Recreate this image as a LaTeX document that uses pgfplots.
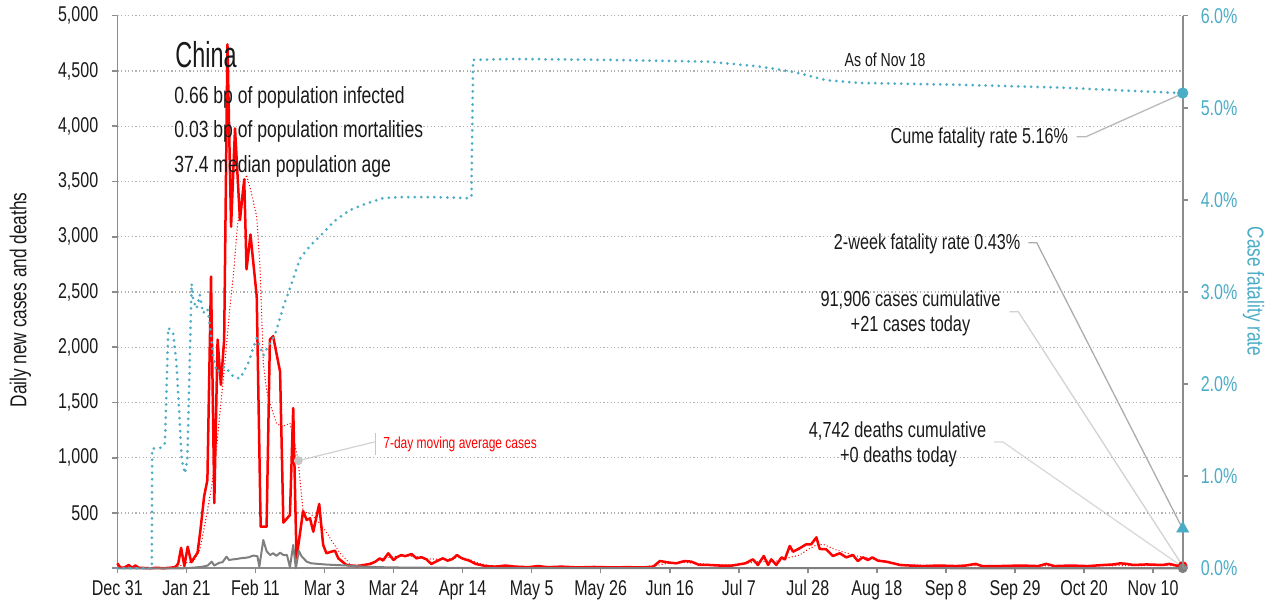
\documentclass[border=0pt]{standalone}
\usepackage{fontspec}
\setmainfont{Liberation Sans}[FakeStretch=0.75]
\newfontfamily\titlefont{Liberation Sans}[FakeStretch=0.65]
\usepackage{pgfplots}
\pgfplotsset{compat=1.18}
\definecolor{cfr}{HTML}{4BACC6}
\definecolor{axisgray}{HTML}{8C8C8C}
\definecolor{gridgray}{HTML}{B0B0B0}
\definecolor{deathgray}{HTML}{7F7F7F}
\definecolor{txt}{HTML}{1A1A1A}
\begin{document}
\begin{tikzpicture}
% leader lines (drawn first, below the markers)
\begin{scope}[x=0.5pt,y=-0.5pt,yshift=304pt]
\draw[color=gray!55, line width=0.65pt] (1076.7,136.7) -- (1086,136.7) -- (1182.7,93.5);
\draw[color=gray!65, line width=0.65pt] (1028.3,242.7) -- (1036.7,242.7) -- (1182.7,529);
\draw[color=gray!35, line width=0.65pt] (1009.3,311.7) -- (1018.3,311.7) -- (1182.7,566);
\draw[color=gray!30, line width=0.65pt] (994,442) -- (1003,442) -- (1182.7,567);
\draw[color=gray!45, line width=0.6pt] (375.5,433) -- (375.5,455);
\draw[color=gray!35, line width=0.6pt] (375.5,441.7) -- (298.3,460.7);
\end{scope}

\begin{axis}[
 name=main,
 at={(58.65pt,19.85pt)}, anchor=south west,
 scale only axis, width=532.7pt, height=276.3pt,
 xmin=0, xmax=324, ymin=0, ymax=5000,
 axis y line*=left, axis x line*=bottom,
 axis line style={-},
 x axis line style={draw=axisgray, line width=1pt},
 y axis line style={draw=axisgray, line width=0.8pt},
 xtick={0,21,...,315},
 xticklabels={Dec 31,Jan 21,Feb 11,Mar 3,Mar 24,Apr 14,May 5,May 26,Jun 16,Jul 7,Jul 28,Aug 18,Sep 8,Sep 29,Oct 20,Nov 10},
 ytick={0,500,...,5000},
 yticklabels={{},500,{1,000},{1,500},{2,000},{2,500},{3,000},{3,500},{4,000},{4,500},{5,000}},
 tick align=outside, major tick length=2.5pt,
 tick style={draw=axisgray, line width=0.8pt},
 ymajorgrids,
 major grid style={draw=gridgray, line width=0.6pt, dash pattern=on 0.6pt off 1.2pt},
 tick label style={font=\fontsize{10.7}{12}\selectfont, text=txt},
 yticklabel style={xshift=-3.5pt},
 /pgf/number format/assume math mode=true,
 clip=false,
]
\addplot[red, line width=1.25pt, line join=round] coordinates {
(0,45)(1,5)(2,5)(3.5,30)(4.5,5)(5.5,25)(6.5,5)(8,3)(10,0)(12,5)(14,0)(16,5)(17.5,10)(18.5,40)(19.4,185)(20.4,20)(21.4,195)(22.5,55)(23.5,100)(24.4,140)(25.3,350)(26.4,650)(27.4,800)(28.5,2640)(29.5,590)(30.5,2070)(31.5,1660)(32.5,2070)(33.5,4740)(34.6,3090)(35.8,3980)(37.3,3150)(38.6,3520)(39.3,2705)(40.5,3020)(42.4,2460)(43.6,376)(45.4,376)(46.4,2070)(47.4,2100)(48.4,1945)(49.5,1780)(50.5,413)(52.5,482)(53.5,1450)(54.5,90)(56.5,518)(57.6,437)(58.6,452)(59.6,331)(61.4,582)(62.6,211)(63.6,136)(65,150)(66.2,159)(67.2,90)(69.7,30)(71,25)(73,20)(75,30)(77,40)(78.5,60)(79.8,90)(80.8,70)(82.4,136)(84,75)(85,100)(86.4,120)(87.5,110)(89.5,129)(91,90)(92.5,100)(94,81)(95.5,39)(97.5,70)(99,90)(100.5,69)(102,85)(103.3,120)(104.5,95)(105.7,81)(107,70)(109,39)(110.5,30)(112,20)(115,15)(118,25)(121,15)(125,10)(128,20)(131,10)(135,15)(140,8)(145,12)(150,8)(155,10)(160,8)(163,15)(165,66)(168,51)(170,45)(172.5,66)(174.6,60)(177,30)(180,30)(183,25)(187,25)(189,35)(191,45)(193.3,81)(194.8,30)(196.6,111)(197.9,30)(198.9,81)(200.4,30)(202,99)(203,81)(204.5,202)(205.5,150)(207.5,181)(209.5,217)(211,217)(212.6,280)(213.6,175)(215.6,172)(217.6,111)(219.7,136)(221.7,99)(223.7,120)(225.2,66)(226.7,99)(228.3,75)(229.6,99)(231.3,69)(233.8,60)(236,45)(238,30)(241,25)(245,20)(250,25)(255,20)(258,25)(261,40)(263,20)(268,20)(275,25)(280,20)(282.5,40)(285,20)(290,25)(295,20)(300,30)(303,35)(305,45)(307,40)(309,30)(313,35)(318,30)(320,40)(322,25)(324,21)
};
\addplot[red, line width=0.7pt, line cap=round, dash pattern=on 0pt off 1.6pt] coordinates {
(0,8)(5,8)(10,3)(17,3)(19,20)(21,50)(23.1,60)(25.1,166)(26.7,407)(28.7,738)(30.2,1100)(31.7,1553)(33,1950)(34.2,2350)(35.3,2650)(36.5,3091)(38,3400)(39.3,3560)(40.8,3393)(42.4,3181)(43.4,2729)(44.4,1855)(45.4,1613)(46.4,1493)(48.4,1312)(50,1281)(52.5,1312)(55,980)(56.5,512)(58.6,498)(61.6,407)(63.5,330)(65.7,226)(67.7,140)(69.7,75)(71,30)(75,30)(78,60)(81,90)(85,110)(90,110)(95,85)(100,80)(104,100)(107,80)(110,45)(113,25)(118,18)(125,15)(140,12)(160,10)(164,25)(167,45)(172,55)(176,45)(180,35)(186,30)(190,40)(195,60)(198,65)(201.4,66)(204,95)(207.5,120)(210,170)(212.6,211)(214.6,217)(218.7,166)(223.7,120)(227,100)(231.8,75)(236,45)(240,30)(250,25)(280,22)(324,25)
};
\addplot[deathgray, line width=1pt, line join=round] coordinates {
(0,0)(20,0)(22,3)(24,8)(26,15)(27.5,25)(28.7,60)(29.5,25)(31,50)(32,55)(33.2,105)(34,75)(35,80)(36.5,85)(37.3,90)(39,95)(40,100)(41.3,115)(42.6,110)(43.2,15)(44.4,256)(45.4,155)(46.5,120)(47.4,136)(48.4,113)(49.5,141)(50.5,120)(51.6,120)(52.5,10)(53.5,211)(54.3,0)(55.2,159)(56,110)(57.6,60)(59,45)(61,40)(63,35)(66,30)(70,25)(75,15)(80,10)(90,5)(100,5)(110,2)(150,1)(324,0)
};
\addplot[only marks, mark=*, mark size=2pt, color=gray!45] coordinates {(55.05,974)};
\addplot[only marks, mark=*, mark size=2.2pt, color=red] coordinates {(324,21)};
\addplot[only marks, mark=*, mark size=2.2pt, color=deathgray] coordinates {(324,0)};
\end{axis}

\begin{axis}[
 at={(58.65pt,19.85pt)}, anchor=south west,
 scale only axis, width=532.7pt, height=276.3pt,
 xmin=0, xmax=324, ymin=0, ymax=6,
 axis y line*=right, axis x line=none,
 axis line style={-},
 y axis line style={draw=axisgray, line width=0.8pt},
 ytick={0,1,...,6},
 yticklabel={\pgfmathprintnumber[fixed,fixed zerofill,precision=1]{\tick}\%},
 tick align=outside, major tick length=2.5pt,
 tick style={draw=axisgray, line width=0.8pt},
 yticklabel style={font=\fontsize{10.7}{12}\selectfont, text=cfr, xshift=3pt},
 /pgf/number format/assume math mode=true,
 clip=false,
]
\addplot[cfr, line width=1.5pt, line cap=round, dash pattern=on 0pt off 3.25pt] coordinates {
(0,0)(10.5,0)(10.6,1.30)(13.5,1.31)(14.5,1.36)(15.5,2.61)(17,2.55)(18,2.23)(19.6,1.18)(20.6,1.03)(21.3,1.18)(22.6,3.09)(23.1,2.91)(24.1,2.82)(25.1,2.97)(26.1,2.77)(27.4,2.82)(28.2,2.62)(29.2,2.30)(30.2,2.13)(32.7,2.19)(35.3,2.08)(37.3,2.06)(39.8,2.23)(42.4,2.50)(44.4,2.31)(45.9,2.41)(47.9,2.53)(50.5,2.84)(53,3.09)(55.5,3.36)(58.6,3.50)(62.6,3.64)(65.7,3.76)(70.7,3.89)(75.8,3.96)(80.9,4.02)(86,4.03)(96,4.03)(106.7,4.02)(107.7,4.03)(108.2,5.52)(120,5.53)(150,5.52)(180,5.50)(195,5.45)(205.5,5.39)(215.6,5.30)(225.8,5.27)(256,5.25)(286.5,5.22)(317,5.17)(324,5.16)
};
\addplot[only marks, mark=*, mark size=2.6pt, color=cfr] coordinates {(324,5.16)};
\addplot[only marks, mark=triangle*, mark size=3.4pt, color=cfr] coordinates {(324,0.43)};
\end{axis}

\begin{scope}[x=0.5pt,y=-0.5pt,yshift=304pt, inner sep=0pt, text=txt]
\node[anchor=base west, font=\titlefont\fontsize{18}{20}\selectfont] at (175,67.7) {China};
\node[anchor=base west, font=\fontsize{11.7}{13}\selectfont] at (174,103.3) {0.66 bp of population infected};
\node[anchor=base west, font=\fontsize{11.7}{13}\selectfont] at (174,137.7) {0.03 bp of population mortalities};
\node[anchor=base west, font=\fontsize{11.7}{13}\selectfont] at (174,172.7) {37.4 median population age};
\node[anchor=base, font=\fontsize{9.4}{11}\selectfont] at (885,66.7) {As of Nov 18};
\node[anchor=base east, font=\fontsize{10.8}{13}\selectfont] at (1068.5,143.3) {Cume fatality rate 5.16\%};
\node[anchor=base east, font=\fontsize{10.8}{13}\selectfont] at (1020.7,249.3) {2-week fatality rate 0.43\%};
\node[anchor=base, font=\fontsize{10.9}{13}\selectfont] at (910.5,306.5) {91,906 cases cumulative};
\node[anchor=base, font=\fontsize{10.9}{13}\selectfont] at (910.5,331.5) {+21 cases today};
\node[anchor=base, font=\fontsize{10.9}{13}\selectfont] at (897.5,437.5) {4,742 deaths cumulative};
\node[anchor=base, font=\fontsize{10.9}{13}\selectfont] at (898.5,462.5) {+0 deaths today};
\node[anchor=base west, font=\fontsize{8}{10}\selectfont, text=red] at (383,448.3) {7-day moving average cases};
\node[rotate=90, font=\fontsize{11.5}{13}\selectfont] at (20.5,300) {Daily new cases and deaths};
\node[rotate=-90, font=\fontsize{11.5}{13}\selectfont, text=cfr] at (1253.5,291.5) {Case fatality rate};
\pgfresetboundingbox
\path (0,0) rectangle (1273,608);
\end{scope}
\end{tikzpicture}
\end{document}
